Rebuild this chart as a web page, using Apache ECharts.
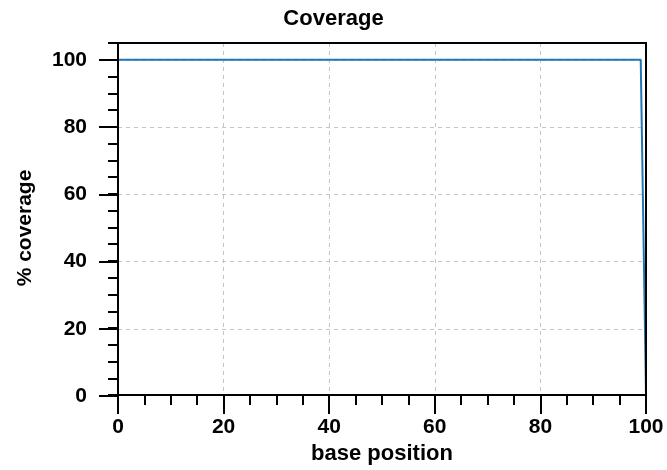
<!DOCTYPE html>
<html>
<head>
<meta charset="utf-8">
<script src="https://cdn.jsdelivr.net/npm/echarts@6/dist/echarts.min.js"></script>
<style>html,body{margin:0;padding:0;background:#fff}#c{width:667px;height:470px}</style>
</head>
<body>
<div id="c"></div>
<script>
// Data
const positions = [0, 99, 100];
const coverage = [100, 100, 0];
const xTicks = [0, 20, 40, 60, 80, 100];
const yTicks = [0, 20, 40, 60, 80, 100];

const FONT = '"Liberation Sans", Arial, sans-serif';
const GRIDC = '#c4c4c4';
const chart = echarts.init(document.getElementById('c'), null, {renderer: 'canvas'});
const G = {left: 118, right: 21, bottom: 74};

chart.setOption({
  animation: false,
  backgroundColor: '#fff',
  title: {
    text: 'Coverage', left: 'center', top: 3,
    textStyle: {fontFamily: FONT, fontWeight: 'bold', fontSize: 22, color: '#000'}
  },
  grid: [
    Object.assign({top: 43, show: true, z: 10, borderColor: '#000', borderWidth: 2, backgroundColor: 'transparent'}, G),
    Object.assign({top: 60}, G)
  ],
  xAxis: [
    {
      type: 'value', gridIndex: 0, min: xTicks[0], max: xTicks[xTicks.length - 1], interval: 20,
      name: 'base position', nameLocation: 'middle', nameGap: 46,
      nameTextStyle: {fontFamily: FONT, fontWeight: 'bold', fontSize: 22, color: '#000'},
      axisLine: {show: true, lineStyle: {color: '#000', width: 2}},
      axisTick: {show: true, length: 19, lineStyle: {color: '#000', width: 2}},
      minorTick: {show: true, splitNumber: 4, length: 10, lineStyle: {color: '#000', width: 2}},
      axisLabel: {margin: 22, fontFamily: FONT, fontWeight: 'bold', fontSize: 21, color: '#000'},
      splitLine: {show: true, lineStyle: {color: xTicks.map((v, i) => (i === 0 || i === xTicks.length - 1) ? 'rgba(0,0,0,0)' : GRIDC), width: 1, type: [4, 4]}}
    },
    {
      type: 'value', gridIndex: 1, min: 0, max: 100, show: false
    }
  ],
  yAxis: [
    {
      type: 'value', gridIndex: 0, min: 0, max: 105, interval: 5,
      axisLine: {show: true, lineStyle: {color: '#000', width: 2}},
      axisTick: {show: true, length: 10, lineStyle: {color: '#000', width: 2}},
      axisLabel: {show: false},
      splitLine: {show: false}
    },
    {
      type: 'value', gridIndex: 1, min: yTicks[0], max: yTicks[yTicks.length - 1], interval: 20,
      name: '% coverage', nameLocation: 'middle', nameGap: 82,
      nameTextStyle: {fontFamily: FONT, fontWeight: 'bold', fontSize: 21, color: '#000'},
      axisLine: {show: false},
      axisTick: {show: true, length: 19, lineStyle: {color: '#000', width: 2}},
      axisLabel: {margin: 31, fontFamily: FONT, fontWeight: 'bold', fontSize: 21, color: '#000'},
      splitLine: {show: true, lineStyle: {color: yTicks.map((v, i) => i === 0 ? 'rgba(0,0,0,0)' : GRIDC), width: 1, type: [4, 4]}}
    }
  ],
  series: [{
    type: 'line', xAxisIndex: 0, yAxisIndex: 0,
    data: positions.map((p, i) => [p, coverage[i]]),
    showSymbol: false, symbol: 'none', clip: false,
    lineStyle: {color: '#1f77b4', width: 2},
    z: 5
  }]
});
</script>
</body>
</html>
